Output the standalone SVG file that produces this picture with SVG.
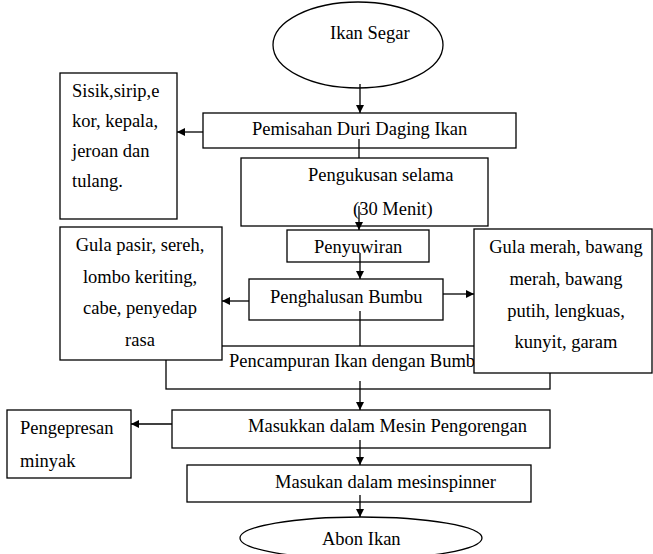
<svg xmlns="http://www.w3.org/2000/svg" width="653" height="554" viewBox="0 0 653 554">
<style>
.b{fill:#fff;stroke:#000;stroke-width:1.3}
.t{font-family:"Liberation Serif","Times New Roman",serif;font-size:18.5px;fill:#000}
.m{text-anchor:middle}
.c{fill:none;stroke:#000;stroke-width:1.3}
</style>
<defs>
<marker id="ah" viewBox="0 0 10 10" refX="10" refY="5" markerWidth="8" markerHeight="8" markerUnits="userSpaceOnUse" orient="auto">
<path d="M0,0 L10,5 L0,10 z" fill="#000"/>
</marker>
</defs>
<rect width="653" height="554" fill="#fff"/>
<g id="n-ikan-segar"><ellipse class="b" cx="358" cy="45" rx="85" ry="43"/><text class="t" x="330" y="39">Ikan Segar</text></g>
<g id="n-pemisahan"><rect class="b" x="203" y="113" width="313" height="35"/><text class="t" x="252" y="135">Pemisahan Duri Daging Ikan</text></g>
<g id="n-sisik"><rect class="b" x="60" y="73" width="117" height="146"/><text class="t" x="72" y="97">Sisik,sirip,e</text><text class="t" x="72" y="127">kor, kepala,</text><text class="t" x="72" y="157">jeroan dan</text><text class="t" x="72" y="187">tulang.</text></g>
<g id="n-pengukusan"><rect class="b" x="241" y="158" width="247" height="68"/><text class="t" x="308" y="181">Pengukusan selama</text><text class="t" x="353" y="215">(30 Menit)</text></g>
<g id="n-penyuwiran"><rect class="b" x="287" y="230" width="142" height="32"/><text class="t" x="314" y="253">Penyuwiran</text></g>
<g id="n-penghalusan"><rect class="b" x="249" y="279" width="194" height="41"/><text class="t" x="270" y="303">Penghalusan Bumbu</text></g>
<g id="n-pencampuran"><rect class="b" x="166" y="346" width="384" height="43"/><text class="t" x="229" y="367">Pencampuran Ikan dengan Bumbu</text></g>
<g id="n-gula-pasir"><rect class="b" x="60" y="227" width="162" height="133"/><text class="t m" x="140" y="251">Gula pasir, sereh,</text><text class="t m" x="140" y="283">lombo keriting,</text><text class="t m" x="140" y="314">cabe, penyedap</text><text class="t m" x="140" y="346">rasa</text></g>
<g id="n-gula-merah"><rect class="b" x="474" y="229" width="178" height="144"/><text class="t m" x="566" y="253">Gula merah, bawang</text><text class="t m" x="566" y="285">merah, bawang</text><text class="t m" x="566" y="317">putih, lengkuas,</text><text class="t m" x="566" y="348">kunyit, garam</text></g>
<g id="n-masukkan"><rect class="b" x="172" y="410" width="378" height="38"/><text class="t" x="248" y="432">Masukkan dalam Mesin Pengorengan</text></g>
<g id="n-pengepresan"><rect class="b" x="7" y="410" width="124" height="68"/><text class="t" x="20" y="434">Pengepresan</text><text class="t" x="20" y="467">minyak</text></g>
<g id="n-masukan"><rect class="b" x="187" y="465" width="344" height="37"/><text class="t" x="275" y="488">Masukan dalam mesinspinner</text></g>
<g id="n-abon"><ellipse class="b" cx="361" cy="538" rx="121" ry="21"/><text class="t" x="322" y="545">Abon Ikan</text></g>
<g id="connectors">
<path class="c" d="M360,84 V113" marker-end="url(#ah)"/>
<path class="c" d="M203,132 H177" marker-end="url(#ah)"/>
<path class="c" d="M359,139 V158"/>
<path class="c" d="M359,206 V230" marker-end="url(#ah)"/>
<path class="c" d="M360,253 V279" marker-end="url(#ah)"/>
<path class="c" d="M249,301 H222" marker-end="url(#ah)"/>
<path class="c" d="M443,294 H474" marker-end="url(#ah)"/>
<path class="c" d="M360,311 V346"/>
<path class="c" d="M360,381 V410" marker-end="url(#ah)"/>
<path class="c" d="M172,424 H131" marker-end="url(#ah)"/>
<path class="c" d="M360,440 V465" marker-end="url(#ah)"/>
<path class="c" d="M360,495 V517" marker-end="url(#ah)"/>
</g>
</svg>
